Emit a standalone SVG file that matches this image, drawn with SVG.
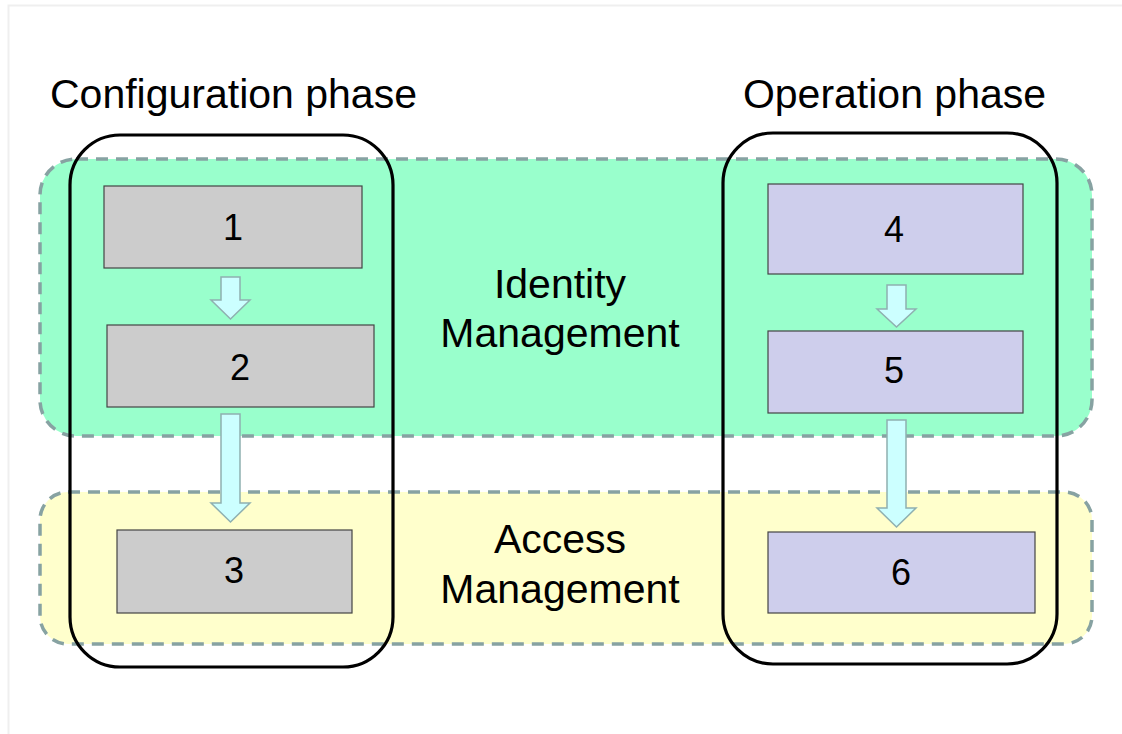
<svg xmlns="http://www.w3.org/2000/svg" width="1122" height="734" viewBox="0 0 1122 734">
<style>
text{font-family:"Liberation Sans",Arial,sans-serif;fill:#000;text-anchor:middle}
.band{stroke:#87a2a2;stroke-width:3.5;stroke-dasharray:12 8}
.phase{fill:none;stroke:#000;stroke-width:3.2}
.gray{fill:#cccccc;stroke:#444;stroke-width:1.2}
.blue{fill:#ceceec;stroke:#444;stroke-width:1.2}
.num{font-size:36px}
.lbl{font-size:41px}
.ttl{font-size:41px}
.arr{fill:#ccffff;stroke:#8fb0b0;stroke-width:1.5}
</style>
<rect x="0" y="0" width="1122" height="734" fill="#fff"/>
<rect x="8.5" y="5.5" width="1120" height="740" fill="none" stroke="#efefef" stroke-width="2"/>
<g id="band-identity"><rect class="band" x="40" y="159" width="1052" height="277" rx="36" fill="#99ffcc"/></g>
<g id="band-access"><rect class="band" x="40" y="492" width="1052" height="152" rx="28" fill="#ffffcc"/></g>
<g id="label-identity"><text class="lbl" x="560" y="298">Identity</text><text class="lbl" x="560" y="347">Management</text></g>
<g id="label-access"><text class="lbl" x="560" y="553">Access</text><text class="lbl" x="560" y="603">Management</text></g>
<g id="phase-config"><rect class="phase" x="70" y="135" width="323" height="532" rx="50"/><text class="ttl" x="233.5" y="108">Configuration phase</text></g>
<g id="phase-operation"><rect class="phase" x="723" y="133" width="334" height="531" rx="50"/><text class="ttl" x="894.5" y="108">Operation phase</text></g>
<g id="node1"><rect class="gray" x="104" y="186" width="258" height="82"/><text class="num" x="233" y="240">1</text></g>
<g id="node2"><rect class="gray" x="107" y="325" width="267" height="82"/><text class="num" x="240" y="380">2</text></g>
<g id="node3"><rect class="gray" x="117" y="530" width="235" height="83"/><text class="num" x="234" y="583">3</text></g>
<g id="node4"><rect class="blue" x="768" y="184" width="255" height="90"/><text class="num" x="894" y="242">4</text></g>
<g id="node5"><rect class="blue" x="768" y="331" width="255" height="82"/><text class="num" x="894" y="383">5</text></g>
<g id="node6"><rect class="blue" x="768" y="532" width="267" height="81"/><text class="num" x="901" y="585">6</text></g>
<g id="connectors">
<polygon class="arr" points="221,277 240,277 240,300 250,300 230.5,319 211,300 221,300"/>
<polygon class="arr" points="221,414 240,414 240,503 250,503 230.5,522 211,503 221,503"/>
<polygon class="arr" points="887,285 906,285 906,309 916,309 896.5,327 877,309 887,309"/>
<polygon class="arr" points="887,420 906,420 906,508 916,508 896.5,527 877,508 887,508"/>
</g>
</svg>
